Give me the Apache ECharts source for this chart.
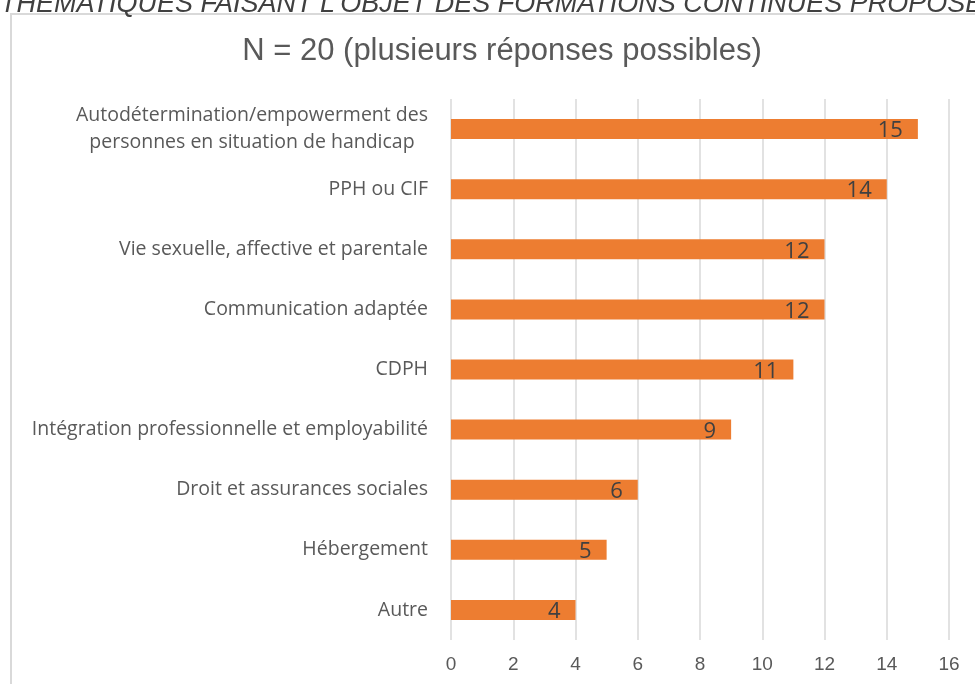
<!DOCTYPE html>
<html>
<head>
<meta charset="utf-8">
<script src="https://cdn.jsdelivr.net/npm/echarts@6/dist/echarts.min.js"></script>
<style>html,body{margin:0;padding:0;background:#fff;}#c{width:975px;height:684px;}</style>
</head>
<body>
<div id="c"></div>
<script>
const categories = [
  'Autodétermination/empowerment des\npersonnes en situation de handicap',
  'PPH ou CIF',
  'Vie sexuelle, affective et parentale',
  'Communication adaptée',
  'CDPH',
  'Intégration professionnelle et employabilité',
  'Droit et assurances sociales',
  'Hébergement',
  'Autre'
];
const values = [15, 14, 12, 12, 11, 9, 6, 5, 4];
const xTicks = [0, 2, 4, 6, 8, 10, 12, 14, 16];
const titleText = 'N = 20 (plusieurs réponses possibles)';
const headerText = "THÉMATIQUES FAISANT L'OBJET DES FORMATIONS CONTINUES PROPOSÉES";

const chart = echarts.init(document.getElementById('c'));
chart.setOption({
  animation: false,
  backgroundColor: '#fff',
  graphic: [
    { type: 'rect', z: 0, shape: { x: 11, y: 14, width: 1100, height: 800 },
      style: { fill: '#fff', stroke: '#d9d9d9', lineWidth: 2 } },
    { type: 'text', z: 1, left: 0, top: -9,
      style: { text: headerText, font: 'italic 27px "Liberation Sans", Arial, sans-serif', fill: '#404040' } }
  ],
  title: {
    text: titleText,
    left: 497, top: 31, textAlign: 'center',
    textStyle: { fontFamily: '"Liberation Sans", sans-serif', fontWeight: 'normal', fontSize: 31, color: '#595959' }
  },
  grid: { left: 451, right: 26, top: 99, bottom: 44, containLabel: false },
  xAxis: {
    type: 'value', min: xTicks[0], max: xTicks[xTicks.length - 1], interval: 2,
    axisLine: { show: false }, axisTick: { show: false },
    splitLine: { lineStyle: { color: '#d9d9d9', width: 1.5 } },
    axisLabel: { margin: 15, fontFamily: '"Liberation Sans", sans-serif', fontSize: 19, color: '#595959' }
  },
  yAxis: {
    type: 'category', inverse: true, data: categories,
    axisLine: { show: false }, axisTick: { show: false },
    axisLabel: {
      margin: 23, color: '#595959', fontFamily: '"Open Sans", sans-serif', fontSize: 19.5,
      lineHeight: 27,
      formatter: function (v) { return v.split('\n').map(l => '{a|' + l + '}').join('\n'); },
      rich: { a: { align: 'center', fontFamily: '"Open Sans", sans-serif', fontSize: 19.5, color: '#595959', lineHeight: 27 } }
    }
  },
  series: [{
    type: 'bar', data: values, barWidth: 20,
    itemStyle: { color: '#ED7D31' },
    label: { show: true, position: 'insideRight', distance: 15, offset: [0, 2], color: '#404040', fontSize: 22, fontFamily: '"Open Sans", sans-serif' }
  }]
});
</script>
</body>
</html>
